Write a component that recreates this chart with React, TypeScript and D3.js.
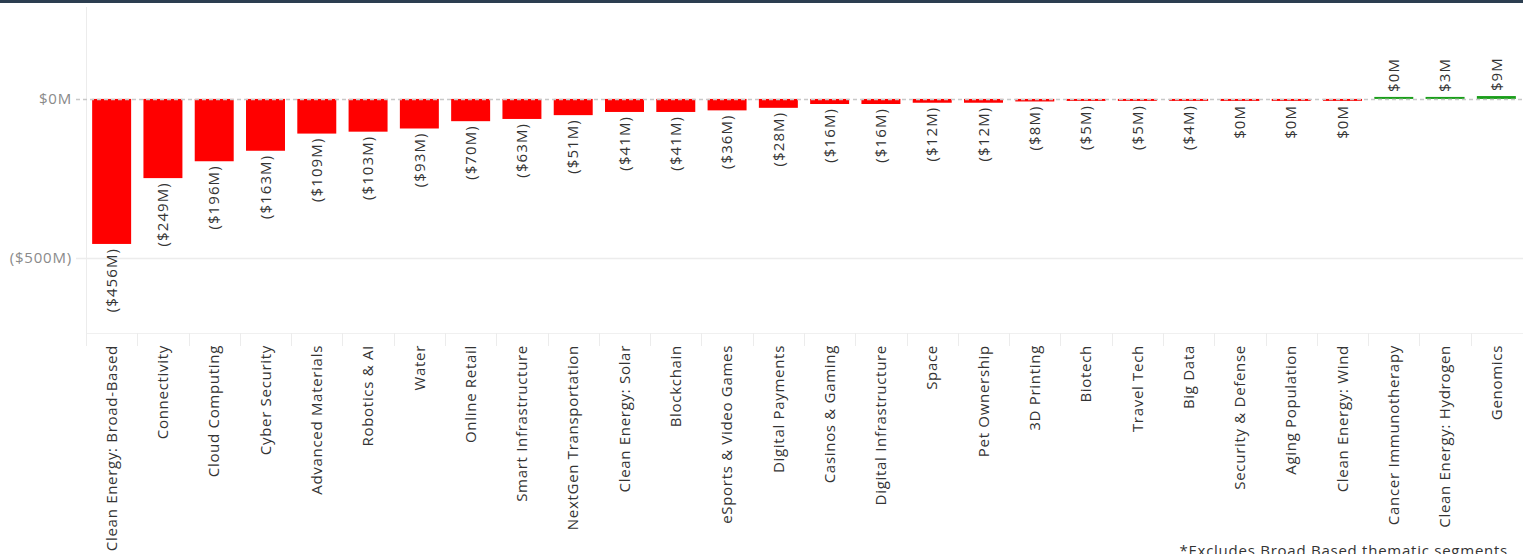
import React from "react";
import * as d3 from "d3";

const categories = [
  "Clean Energy: Broad-Based", "Connectivity", "Cloud Computing", "Cyber Security",
  "Advanced Materials", "Robotics & AI", "Water", "Online Retail", "Smart Infrastructure",
  "NextGen Transportation", "Clean Energy: Solar", "Blockchain", "eSports & Video Games",
  "Digital Payments", "Casinos & Gaming", "Digital Infrastructure", "Space", "Pet Ownership",
  "3D Printing", "Biotech", "Travel Tech", "Big Data", "Security & Defense",
  "Aging Population", "Clean Energy: Wind", "Cancer Immunotherapy", "Clean Energy: Hydrogen", "Genomics",
];
const values = [
  -456, -249, -196, -163, -109, -103, -93, -70, -63, -51, -41, -41, -36, -28, -16, -16,
  -12, -12, -8, -5, -5, -4, -0.3, -0.2, -0.2, 0.2, 3, 9,
];
const yTicks = [0, -500];
const footnote = "*Excludes Broad Based thematic segments";

const W = 1523, H = 554;
const FONT = "'Open Sans', 'Noto Sans', sans-serif";

function fmt(v: number) {
  const r = Math.round(Math.abs(v));
  if (v < 0 && r > 0) return `($${r}M)`;
  return `$${r}M`;
}

export default function App() {
  const x = d3.scaleBand<string>().domain(categories).range([86, 1522]).paddingInner(0.24).paddingOuter(0.12);
  const y = d3.scaleLinear().domain([-736, 289]).range([333, 7]);
  const y0 = y(0);
  const bw = x.bandwidth();
  return (
    <svg width={W} height={H} style={{ position: "absolute", left: 0, top: 0, background: "#fff" }} fontFamily={FONT}>
      <rect x={0} y={0} width={W} height={3} fill="#2c3e50" />
      {/* left axis line */}
      <line x1={86.5} x2={86.5} y1={7} y2={333} stroke="#ececec" strokeWidth={1} />
      {/* category dividers */}
      <line x1={86} x2={W} y1={333.5} y2={333.5} stroke="#f0f0f0" />
      {categories.map((c, i) => {
        const xs = 86 + i * x.step();
        return <line key={"d" + i} x1={Math.round(xs) + 0.5} x2={Math.round(xs) + 0.5} y1={333} y2={346} stroke="#ececec" />;
      })}
      {/* gridline -500 */}
      <line x1={76} x2={W} y1={Math.round(y(-500)) + 0.5} y2={Math.round(y(-500)) + 0.5} stroke="#ececec" strokeWidth={1.5} />
      {yTicks.map((t) => (
        <text key={t} x={72} y={y(t)} dy="0.35em" textAnchor="end" fontSize={15} letterSpacing={0.8} fill="#8a8a8a">{fmt(t)}</text>
      ))}
      {/* bars */}
      {categories.map((c, i) => {
        const v = values[i];
        const yv = y(v);
        const top = v >= 0 ? Math.min(yv, y0 - 2) : y0;
        const h = Math.max(Math.abs(yv - y0), 2);
        return <rect key={"b" + i} x={x(c)} y={top} width={bw} height={h} fill={v >= 0 ? "#1a9e1a" : "#ff0000"} />;
      })}
      {/* zero line */}
      <line x1={76} x2={W} y1={y0 + 0.5} y2={y0 + 0.5} stroke="#c8c8c8" strokeWidth={1.5} strokeDasharray="4,3" />
      {/* value labels */}
      {categories.map((c, i) => {
        const v = values[i];
        const cx = (x(c) as number) + bw / 2;
        const barEnd = v >= 0 ? Math.min(y(v), y0 - 2) : Math.max(y(v), y0 + 2);
        const ly = v >= 0 ? barEnd - 5 : barEnd + 4;
        return (
          <text key={"v" + i} transform={`translate(${cx},${ly}) rotate(-90)`} textAnchor={v >= 0 ? "start" : "end"}
            dy="0.35em" fontSize={15} letterSpacing={1.1} fill="#333">{fmt(v)}</text>
        );
      })}
      {/* category labels */}
      {categories.map((c) => {
        const cx = (x(c) as number) + bw / 2;
        return (
          <text key={"c" + c} transform={`translate(${cx},345) rotate(-90)`} textAnchor="end" dy="0.35em" fontSize={15} letterSpacing={0.7} fill="#333">{c}</text>
        );
      })}
      <text x={1508} y={556} textAnchor="end" fontSize={15} letterSpacing={0.75} fill="#333">{footnote}</text>
    </svg>
  );
}
